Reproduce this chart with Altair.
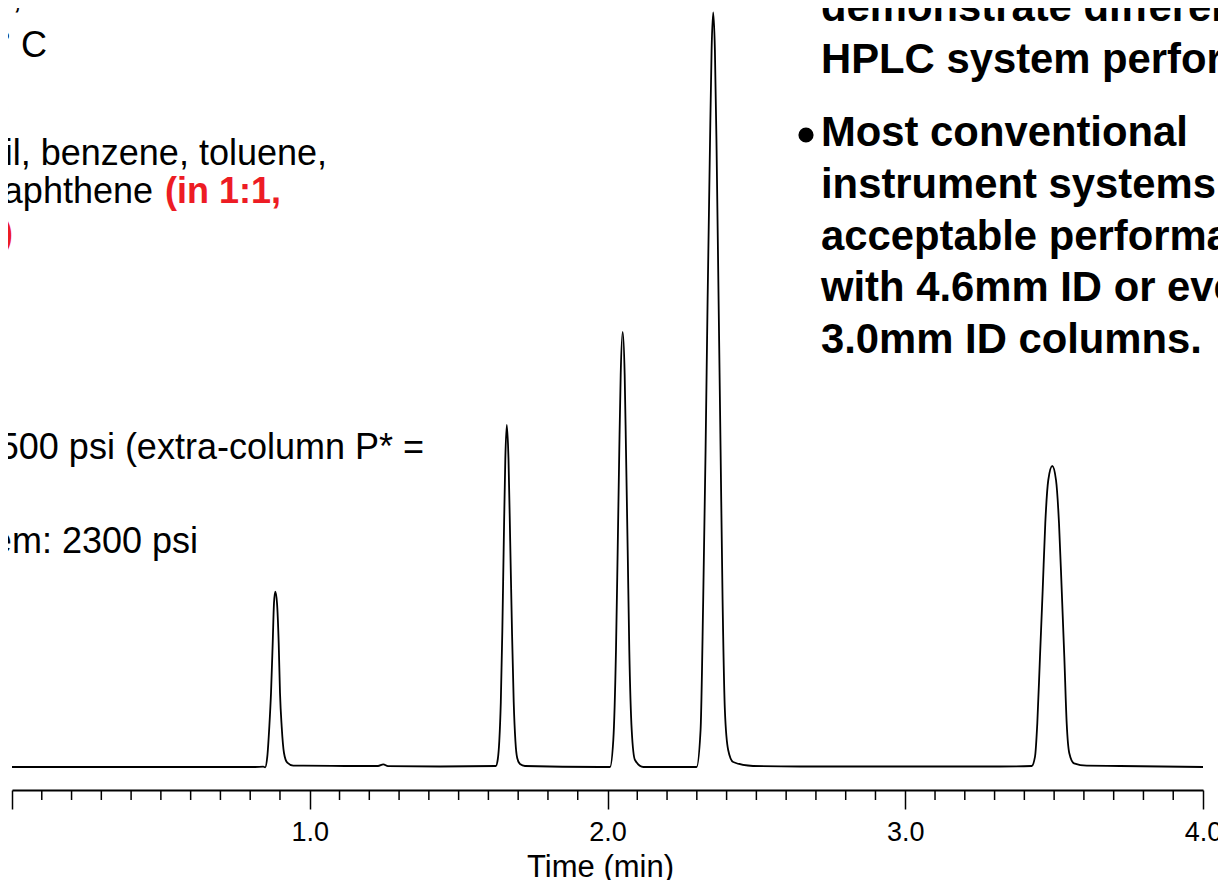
import altair as alt
import pandas as pd

# ---- chromatogram trace (time in min, detector signal in arbitrary units) ----
time_min = [0.000, 0.400, 0.816, 0.844, 0.850,
            0.8574, 0.8642, 0.8699, 0.8756, 0.8799, 0.8843, 0.8900, 0.8957, 0.9001, 0.9058, 0.9135, 0.9246, 0.9447, 0.9783,
            1.1352, 1.2292, 1.2470, 1.2628, 1.4375,
            1.6249, 1.6316, 1.6366, 1.6417, 1.6467, 1.6517, 1.6568, 1.6618, 1.6675, 1.6732, 1.6793, 1.6850, 1.6907, 1.6967, 1.7061, 1.7229,
            1.9748,
            2.0084, 2.0195, 2.0285, 2.0342, 2.0396, 2.0443, 2.0510, 2.0577, 2.0621, 2.0678, 2.0732, 2.0813, 2.0923, 2.1203,
            2.2434,
            2.2992, 2.3126, 2.3214, 2.3294, 2.3362, 2.3439, 2.3496, 2.3550, 2.3607, 2.3664, 2.3731, 2.3798, 2.3865, 2.3942, 2.4053, 2.4221, 2.4887,
            2.6465, 3.3182,
            3.4247, 3.4358, 3.4435, 3.4525, 3.4616, 3.4703, 3.4804, 3.4938, 3.5063, 3.5164, 3.5255, 3.5342, 3.5422, 3.5510, 3.5668, 3.6095, 3.7212,
            4.000]
signal = [0, 0, 0, 0.3, -0.3,
          10.3, 40.3, 74, 124, 164, 175.3, 164, 124, 74, 40.3, 14, 4.3, 1.3, 1.3,
          1, 1, 2.7, 0.8, 0.5,
          1, 8, 26, 65, 135, 226, 308, 342, 308, 226, 135, 65, 26, 9, 3, 1,
          0,
          0, 27, 117, 217, 317, 392, 435, 392, 317, 217, 117, 37, 7, 0,
          0,
          0, 37, 167, 317, 467, 617, 717, 754.5, 717, 617, 467, 317, 167, 57, 17, 5, 1,
          0.5, 0.5,
          1, 10.3, 43.7, 110.3, 177, 243.7, 287, 301, 287, 243.7, 177, 110.3, 43.7, 13.7, 3.7, 1.3, 1,
          0]

major_ticks = [0, 1, 2, 3, 4]
minor_ticks = [0.1, 0.2, 0.3, 0.4, 0.5, 0.6, 0.7, 0.8, 0.9,
               1.1, 1.2, 1.3, 1.4, 1.5, 1.6, 1.7, 1.8, 1.9,
               2.1, 2.2, 2.3, 2.4, 2.5, 2.6, 2.7, 2.8, 2.9,
               3.1, 3.2, 3.3, 3.4, 3.5, 3.6, 3.7, 3.8, 3.9]

left_notes = [
    "Mobile phase: 50:50, Water/Acetonitrile",
    "Temperature: 30° C",
    "Sample -",
    "Sample: uracil, benzene, toluene,",
    "naphthalene, acenaphthene",
    "(in 1:1,",
    "water:ACN)",
    "Flow: 1.0 mL/min",
    "Pressure: 2500 psi (extra-column P* =",
    "Pressure on system: 2300 psi",
]
right_para1 = ["demonstrate differences in", "HPLC system performance."]
right_para2 = ["Most conventional", "instrument systems show", "acceptable performance",
               "with 4.6mm ID or even", "3.0mm ID columns."]

FONT = "Liberation Sans, Arial, sans-serif"
RED = "#ED1C24"
OX, OY = 12, 8  # page position of plot-area origin

trace = pd.DataFrame({"t": time_min, "s": signal})
ticks_df = pd.DataFrame({"t": minor_ticks})

x_enc = alt.X(
    "t:Q",
    scale=alt.Scale(domain=[0, 4], nice=False, zero=False),
    axis=alt.Axis(
        values=major_ticks,
        labelExpr="datum.value == 0 ? '' : format(datum.value, '.1f')",
        labelFlush=False, labelOverlap=False,
        tickSize=19, tickWidth=1.5, tickColor="black",
        domainColor="black", domainWidth=2,
        labelPadding=10, labelFontSize=27, labelFont=FONT, labelColor="black",
        grid=False,
        title="Time (min)", titleFont=FONT, titleFontSize=31, titleFontWeight="normal",
        titleColor="black", titleX=588, titleY=86, titleBaseline="alphabetic", titleAlign="center",
    ),
)
y_enc = alt.Y("s:Q", scale=alt.Scale(domain=[-23, 759], nice=False, zero=False), axis=None)

line = alt.Chart(trace).mark_line(color="black", strokeWidth=1.8, interpolate="monotone").encode(
    x=x_enc, y=y_enc
)
minor = alt.Chart(ticks_df).mark_rule(color="black", strokeWidth=1.5).encode(
    x=x_enc, y=alt.value(782), y2=alt.value(792)
)


def txt(lines, px, py, size, bold=False, color="black", align="left", lh=None):
    kw = dict(text=lines, font=FONT, fontSize=size, fontWeight="bold" if bold else "normal",
              color=color, align=align, baseline="alphabetic")
    if lh is not None:
        kw["lineHeight"] = lh
    return alt.Chart(alt.Data(values=[{}])).mark_text(**kw).encode(
        x=alt.value(px - OX), y=alt.value(py - OY)
    )


texts = [
    txt(left_notes[0], 315, 8, 36, align="right"),
    txt(left_notes[1], 47, 57, 36, align="right"),
    txt(left_notes[2], 9, 118, 36, bold=True, color=RED, align="right"),
    txt(left_notes[3], 327, 165, 36, align="right"),
    txt(left_notes[4], 153, 203, 36, align="right"),
    txt(left_notes[5], 165, 203, 36, bold=True, color=RED, align="left"),
    txt(left_notes[6], 13, 245, 36, bold=True, color=RED, align="right"),
    txt(left_notes[7], 9, 297, 36, align="right"),
    txt(left_notes[8], 424, 459, 36, align="right"),
    txt(left_notes[9], 198, 553, 36, align="right"),
    txt(right_para1, 821, 21, 41.8, bold=True, lh=52),
    txt(right_para2, 821, 146, 41.8, bold=True, lh=51.75),
]
bullet = alt.Chart(alt.Data(values=[{}])).mark_point(
    shape="circle", filled=True, color="black", opacity=1, size=230
).encode(x=alt.value(806 - OX), y=alt.value(135 - OY))

chart = alt.layer(line, minor, bullet, *texts).properties(
    width=1191, height=782,
    autosize=alt.AutoSizeParams(type="none"),
    padding={"left": 4, "top": 0, "right": 15, "bottom": 90},
    background="white",
).configure_view(stroke=None)

chart.save("out.html", embed_options={"renderer": "svg", "actions": False})
